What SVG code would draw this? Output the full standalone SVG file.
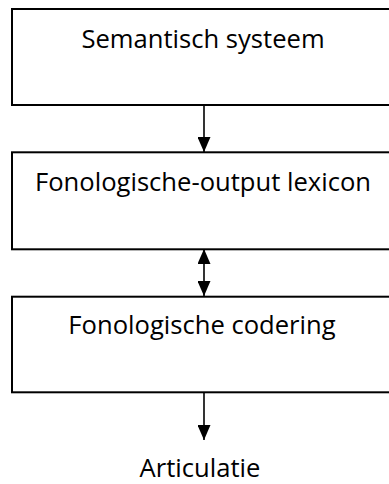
<svg xmlns="http://www.w3.org/2000/svg" width="389" height="484" viewBox="0 0 389 484">
<style>
.box{fill:#fff;stroke:#000;stroke-width:2}
.lbl{font-family:"Open Sans","Noto Sans",sans-serif;font-size:25.6px;fill:#000;text-anchor:middle}
.conn{stroke:#000;stroke-width:1.6;fill:none}
</style>
<defs>
<marker id="ah" viewBox="0 0 15 13" refX="15" refY="6.5" markerWidth="15" markerHeight="13" markerUnits="userSpaceOnUse" orient="auto-start-reverse">
<path d="M0,0 L15,6.5 L0,13 z" fill="#000"/>
</marker>
</defs>
<rect width="389" height="484" fill="#fff"/>
<g id="connectors">
<line class="conn" x1="204" y1="105" x2="204" y2="152" marker-end="url(#ah)"/>
<line class="conn" x1="204" y1="249" x2="204" y2="296" marker-start="url(#ah)" marker-end="url(#ah)"/>
<line class="conn" x1="204" y1="392" x2="204" y2="440" marker-end="url(#ah)"/>
</g>
<g id="semantisch">
<rect class="box" x="12" y="9" width="400" height="96"/>
<text class="lbl" x="203" y="47.5">Semantisch systeem</text>
</g>
<g id="lexicon">
<rect class="box" x="12" y="152.3" width="400" height="97"/>
<text class="lbl" x="203" y="191">Fonologische-output lexicon</text>
</g>
<g id="codering">
<rect class="box" x="12" y="296.7" width="400" height="95.6"/>
<text class="lbl" x="202" y="333.5">Fonologische codering</text>
</g>
<g id="articulatie">
<text class="lbl" x="200" y="477">Articulatie</text>
</g>
</svg>
